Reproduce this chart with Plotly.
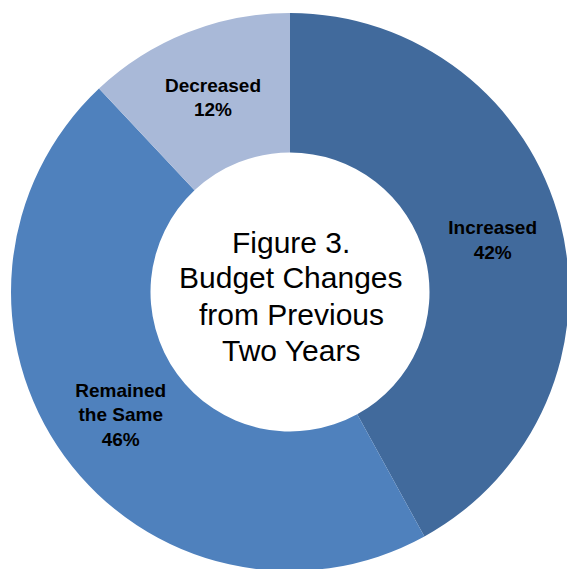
import plotly.graph_objects as go

categories = ["Increased", "Remained<br>the Same", "Decreased"]
values = [42, 46, 12]
slice_colors = ["#416A9C", "#4F81BD", "#A9B9D8"]
center_lines = ["Figure 3.", "Budget Changes", "from Previous", "Two Years"]

W, H = 570, 572
FONT = "Arial, Liberation Sans, sans-serif"
CX, CY, R = 290, 292, 279

fig = go.Figure(
    go.Pie(
        labels=categories,
        values=values,
        sort=False,
        direction="clockwise",
        rotation=0,
        hole=0.5,
        marker=dict(colors=slice_colors, line=dict(width=0)),
        texttemplate="<b>%{label}</b><br><b>%{value}%</b>",
        textposition="inside",
        insidetextorientation="horizontal",
        textfont=dict(family=FONT, size=19, color="black"),
        hoverinfo="label+percent",
        showlegend=False,
        domain=dict(x=[(CX - R) / W, (CX + R) / W],
                    y=[1 - (CY + R) / H, 1 - (CY - R) / H]),
    )
)

# centre title, one annotation per line
line_y = [242, 277, 314, 350]
for txt, yp in zip(center_lines, line_y):
    fig.add_annotation(
        x=291 / W, y=1 - yp / H, xref="paper", yref="paper",
        text=txt, showarrow=False, xanchor="center", yanchor="middle",
        font=dict(family=FONT, size=30, color="black"),
    )

fig.update_layout(
    width=W, height=H,
    margin=dict(l=0, r=0, t=0, b=0),
    paper_bgcolor="white", plot_bgcolor="white",
    uniformtext=dict(minsize=19, mode="show"),
)

fig.write_html(
    "out.html",
    config={"displayModeBar": False},
    post_script=(
        "document.documentElement.style.margin='0';"
        "document.body.style.margin='0';"
        "document.documentElement.style.overflow='hidden';"
        "document.body.style.overflow='hidden';"
    ),
)
